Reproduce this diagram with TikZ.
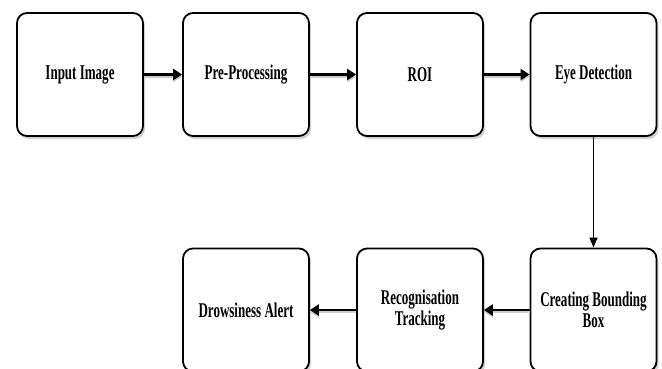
\documentclass[tikz,border=0pt]{standalone}
\usepackage{fontspec}
\newfontfamily\boxfont{Liberation Serif}[FakeStretch=0.62]
\usetikzlibrary{arrows.meta,shadows,positioning}
\begin{document}
\begin{tikzpicture}[x=1pt,y=-1pt,
  stepbox/.style={draw=black, line width=1.8pt, rounded corners=10pt, fill=white,
    minimum width=126pt, minimum height=123pt, inner sep=0pt, align=center,
    font=\boxfont\bfseries\fontsize{21}{21}\selectfont,
    drop shadow={shadow xshift=2pt, shadow yshift=-3pt, opacity=0.35, fill=gray}},
  harrow/.style={line width=2.6pt, -{Triangle[length=9pt,width=11pt]},
    preaction={draw=gray!40, line width=2.6pt, transform canvas={yshift=-2pt}}},
  varrow/.style={line width=1.6pt, -{Triangle[length=10pt,width=8pt]}}
]
\useasboundingbox (0,0) rectangle (662,369);
\fill[white] (0,0) rectangle (662,369);
\node[stepbox] (in)  at (80,74.5)  {Input Image};
\node[stepbox] (pre) at (246,74.5) {Pre-Processing};
\node[stepbox] (roi) at (420,74.5) {ROI};
\node[stepbox] (eye) at (593.5,74.5) {Eye Detection};
\node[stepbox] (bb)  at (593.5,310) {Creating Bounding\\Box};
\node[stepbox] (rec) at (420,310) {Recognisation\\Tracking};
\node[stepbox] (dro) at (246,310) {Drowsiness Alert};
\draw[harrow] (in) -- (pre);
\draw[harrow] (pre) -- (roi);
\draw[harrow] (roi) -- (eye);
\draw[varrow] (eye) -- (bb);
\draw[harrow] (bb) -- (rec);
\draw[harrow] (rec) -- (dro);
\end{tikzpicture}
\end{document}
